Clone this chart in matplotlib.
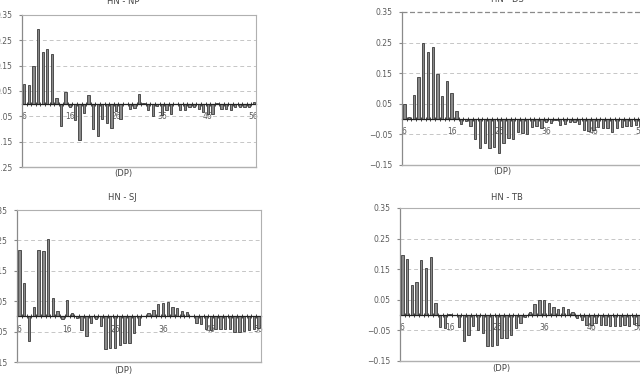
import matplotlib
matplotlib.use("Agg")
import matplotlib.pyplot as plt
import numpy as np
from matplotlib.lines import Line2D

# ---- data ----
lags = list(range(6, 57))

hn_np = [0.077, 0.075, 0.148, 0.296, 0.202, 0.216, 0.195, 0.023, -0.089, 0.046,
         -0.013, -0.063, -0.142, -0.036, 0.033, -0.100, -0.128, -0.060, -0.078, -0.097,
         -0.028, -0.062, -0.003, -0.020, -0.019, 0.040, 0.002, -0.024, -0.048, -0.009,
         -0.046, -0.024, -0.039, 0.000, -0.026, -0.025, -0.015, -0.013, -0.022, -0.034,
         -0.042, -0.039, 0.001, -0.020, -0.022, -0.024, -0.015, -0.013, -0.013, -0.015, 0.006]

hn_ds = [0.049, 0.008, 0.078, 0.137, 0.250, 0.219, 0.234, 0.148, 0.077, 0.124,
         0.086, 0.026, -0.016, -0.005, -0.021, -0.064, -0.095, -0.077, -0.096, -0.090,
         -0.111, -0.078, -0.061, -0.066, -0.042, -0.047, -0.050, -0.027, -0.024, -0.029,
         -0.010, -0.012, -0.002, -0.019, -0.016, -0.011, -0.009, -0.017, -0.036, -0.038,
         -0.035, -0.027, -0.030, -0.028, -0.043, -0.028, -0.025, -0.022, -0.024, -0.020, -0.022]

hn_sj = [0.218, 0.110, -0.082, 0.030, 0.218, 0.215, 0.255, 0.059, 0.017, -0.008,
         0.053, 0.010, -0.005, -0.045, -0.065, -0.022, -0.010, -0.032, -0.106, -0.104,
         -0.104, -0.094, -0.087, -0.087, -0.054, -0.028, 0.000, 0.010, 0.021, 0.041,
         0.043, 0.046, 0.030, 0.026, 0.019, 0.013, 0.000, -0.021, -0.025, -0.043,
         -0.046, -0.042, -0.042, -0.040, -0.040, -0.052, -0.052, -0.047, -0.045, -0.041, -0.038]

hn_tb = [0.195, 0.182, 0.099, 0.108, 0.179, 0.155, 0.189, 0.040, -0.040, -0.043,
         0.005, 0.000, -0.040, -0.085, -0.065, -0.036, -0.049, -0.060, -0.102, -0.102,
         -0.098, -0.074, -0.076, -0.065, -0.042, -0.027, -0.005, 0.011, 0.037, 0.048,
         0.048, 0.041, 0.028, 0.021, 0.025, 0.021, 0.011, -0.008, -0.015, -0.031,
         -0.031, -0.027, -0.031, -0.033, -0.035, -0.035, -0.037, -0.033, -0.034, -0.030, -0.032]

titles = ["HN - NP", "HN - DS", "HN - SJ", "HN - TB"]
xlabel_text = "(DP)"
xtick_vals = [6, 16, 26, 36, 46, 56]
yticks_np = [0.35, 0.25, 0.15, 0.05, -0.05, -0.15, -0.25]
yticks_other = [0.35, 0.25, 0.15, 0.05, -0.05, -0.15]

W, H = 640, 374
fig = plt.figure(figsize=(W / 100, H / 100), dpi=100)

TXT = "#5a5a5a"
GRID = "#c6c6c6"


def fig_rect(left, top, right, bottom):
    return [left / W, 1 - bottom / H, (right - left) / W, (bottom - top) / H]


def panel(rect, values, yticks, title, title_xy, xlab_xy, top_dashed=False):
    ax = fig.add_axes(rect)
    ax.set_axisbelow(True)
    ax.bar(lags, values, width=0.5, color="#8a8a8a", edgecolor="#3a3a3a",
           linewidth=0.6, zorder=3)
    ax.set_xlim(lags[0] - 0.5, lags[-1] + 0.5)
    ax.set_ylim(yticks[-1], yticks[0])
    ax.set_yticks(yticks)
    ax.set_yticklabels([f"{v:.2f}".replace("-", "\u2212") for v in yticks])
    ax.tick_params(axis="y", length=2, color="#888888", labelsize=5.5,
                   labelcolor=TXT, pad=5)
    for y in yticks[1:-1]:
        ax.axhline(y, color=GRID, lw=0.7, ls=(0, (4, 3)), zorder=1)

    # zero axis as the bottom spine
    for s in ["top", "right", "left"]:
        ax.spines[s].set_visible(False)
    ax.spines["bottom"].set_position(("data", 0))
    ax.spines["bottom"].set_color("#222222")
    ax.spines["bottom"].set_linewidth(0.9)
    ax.spines["bottom"].set_zorder(4)
    ax.set_xticks(xtick_vals)
    ax.set_xticklabels([str(v) for v in xtick_vals])
    ax.set_xticks(np.arange(lags[0] - 0.5, lags[-1] + 1.0, 1.0), minor=True)
    ax.tick_params(axis="x", which="major", length=0, pad=6, labelsize=5.5,
                   labelcolor=TXT)
    ax.tick_params(axis="x", which="minor", length=3, direction="inout",
                   color="#222222", width=0.6)

    # frame
    kw = dict(transform=ax.transAxes, clip_on=False, zorder=5)
    ax.add_line(Line2D([0, 0], [0, 1], color="#8a8a8a", lw=0.9, **kw))
    ax.add_line(Line2D([0, 1], [0, 0], color="#b0b0b0", lw=1.0, **kw))
    ax.add_line(Line2D([1, 1], [0, 1], color="#b0b0b0", lw=0.8, **kw))
    if top_dashed:
        ax.add_line(Line2D([0, 1], [1, 1], color="#8a8a8a", lw=0.9,
                           ls=(0, (4, 2)), **kw))
    else:
        ax.add_line(Line2D([0, 1], [1, 1], color="#b0b0b0", lw=0.8, **kw))

    fig.text(title_xy[0] / W, 1 - title_xy[1] / H, title, ha="center",
             va="center", fontsize=6, color="#444444")
    fig.text(xlab_xy[0] / W, 1 - xlab_xy[1] / H, xlabel_text, ha="center",
             va="center", fontsize=6, color="#444444")
    return ax


panel(fig_rect(22, 15, 256, 167), hn_np, yticks_np, titles[0], (123, 1), (123, 173))
panel(fig_rect(402, 12, 643, 165), hn_ds, yticks_other, titles[1], (507, 0), (502, 171),
      top_dashed=True)
panel(fig_rect(17, 210, 261, 362), hn_sj, yticks_other, titles[2], (122, 198), (123, 370))
panel(fig_rect(400, 208, 641, 361), hn_tb, yticks_other, titles[3], (507, 197), (501, 369))

fig.savefig("out.png", dpi=100)
